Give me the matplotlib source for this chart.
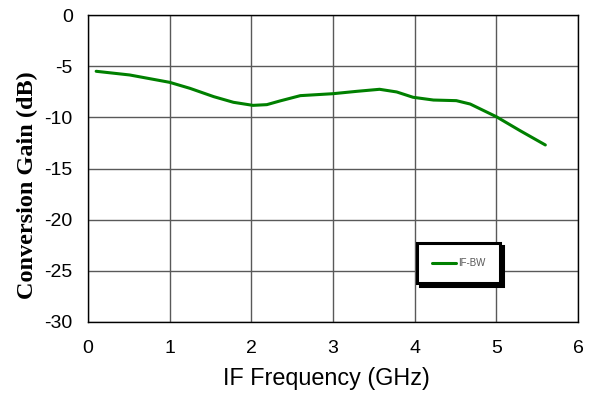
import matplotlib.pyplot as plt

plt.rcParams['axes.unicode_minus'] = False

freq = [0.1, 0.51, 1.0, 1.25, 1.54, 1.78, 2.02, 2.19, 2.35, 2.6, 3.0, 3.29, 3.57,
        3.78, 3.98, 4.23, 4.51, 4.68, 5.0, 5.29, 5.6]
gain = [-5.5, -5.86, -6.58, -7.17, -7.98, -8.53, -8.83, -8.76, -8.4, -7.88, -7.69, -7.46, -7.26,
        -7.52, -8.04, -8.31, -8.37, -8.7, -9.94, -11.3, -12.7]

fig = plt.figure(figsize=(5.92, 3.94), dpi=100)
ax = fig.add_axes([88/592, 1 - 322/394, 490/592, 307/394])

ax.plot(freq, gain, color='#008000', linewidth=2.2, label='IF-BW',
        solid_joinstyle='round', solid_capstyle='round')

ax.set_xlim(0, 6)
ax.set_ylim(-30, 0)
ax.set_xticks(range(0, 7))
ax.set_yticks(range(-30, 1, 5))
ax.grid(True, color='#595959', linewidth=1.0)
ax.tick_params(axis='x', length=0, pad=13, labelsize=14)
ax.tick_params(axis='y', length=0, pad=11, labelsize=14)
for lab in ax.get_xticklabels() + ax.get_yticklabels():
    lab.set_family('Liberation Sans')
for s in ax.spines.values():
    s.set_linewidth(1.0)

ax.set_xlabel('IF Frequency (GHz)', family='Liberation Sans', fontsize=16.8)
ax.xaxis.set_label_coords(0.487, -0.145)
ax.set_ylabel('Conversion Gain (dB)', family='Liberation Serif', fontsize=17.5,
              fontweight='bold')
ax.yaxis.set_label_coords(-0.102, 0.446)

leg = ax.legend(loc='lower left', bbox_to_anchor=(0.671, 0.127, 0.17, 0.133),
                mode='expand', fancybox=False, shadow={'color': 'black', 'alpha': 1},
                edgecolor='black', framealpha=1, handlelength=2.5, handletextpad=0.2,
                borderpad=1.55, prop={'family': 'Liberation Sans', 'size': 7},
                borderaxespad=0)
leg.get_frame().set_linewidth(2.2)
for t in leg.get_texts():
    t.set_color('#595959')

fig.savefig('out.png', dpi=100)
